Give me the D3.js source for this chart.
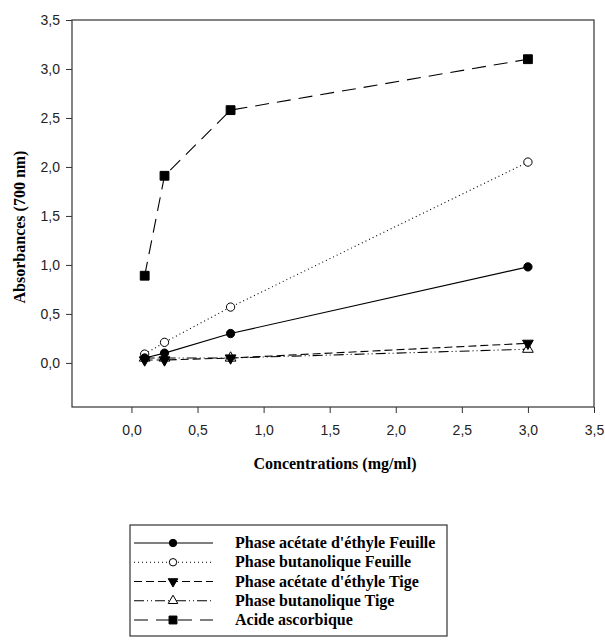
<!DOCTYPE html>
<html>
<head>
<meta charset="utf-8">
<script src="https://cdn.jsdelivr.net/npm/d3@7"></script>
<style>
  body { margin: 0; background: #fff; }
  .tick text { font-family: "Liberation Sans", Arial, sans-serif; font-size: 14px; fill: #222; }
  .title { font-family: "Liberation Serif", "Times New Roman", serif; font-weight: bold; font-size: 16px; fill: #000; }
</style>
</head>
<body>
<div id="chart"></div>
<script>
// data
const concentrations = [0.1, 0.25, 0.75, 3.0];
const acetateFeuille = [0.05, 0.10, 0.30, 0.98];
const butanolFeuille = [0.09, 0.21, 0.57, 2.05];
const acetateTige = [0.03, 0.03, 0.05, 0.20];
const butanolTige = [0.05, 0.05, 0.05, 0.14];
const acideAscorbique = [0.89, 1.91, 2.58, 3.10];
const seriesNames = [
  "Phase acétate d'éthyle Feuille",
  "Phase butanolique Feuille",
  "Phase acétate d'éthyle Tige",
  "Phase butanolique Tige",
  "Acide ascorbique"
];
const xTicks = [0, 0.5, 1, 1.5, 2, 2.5, 3, 3.5];
const yTicks = [0, 0.5, 1, 1.5, 2, 2.5, 3, 3.5];

const W = 605, H = 644;
const margin = {left: 72, right: 594, top: 20, bottom: 407};

const svg = d3.select('#chart').append('svg').attr('width', W).attr('height', H);

const x = d3.scaleLinear().domain([-0.45, 3.5]).range([margin.left, margin.right]);
const y = d3.scaleLinear().domain([-0.45, 3.5]).range([margin.bottom, margin.top]);

const fmt = d3.formatLocale({decimal: ',', thousands: '.', grouping: [3], currency: ['', '']}).format('.1f');

// series styles
const styles = [
  {vals: acetateFeuille, dash: null, sym: d3.symbolCircle, size: 54, fill: '#000', rot: 0},
  {vals: butanolFeuille, dash: '1,3', sym: d3.symbolCircle, size: 54, fill: '#fff', rot: 0},
  {vals: acetateTige, dash: '8,4', sym: d3.symbolTriangle, size: 50, fill: '#000', rot: 180},
  {vals: butanolTige, dash: '10,3,1,3,1,3', sym: d3.symbolTriangle, size: 50, fill: '#fff', rot: 0},
  {vals: acideAscorbique, dash: '14,8', sym: d3.symbolSquare, size: 78, fill: '#000', rot: 0}
];

// axes
svg.append('g')
  .attr('transform', `translate(0,${margin.bottom})`)
  .call(d3.axisBottom(x).tickValues(xTicks).tickFormat(fmt).tickSize(6).tickPadding(12))
  .call(g => g.select('.domain').remove());
svg.append('g')
  .attr('transform', `translate(${margin.left},0)`)
  .call(d3.axisLeft(y).tickValues(yTicks).tickFormat(fmt).tickSize(6).tickPadding(6))
  .call(g => g.select('.domain').remove());
svg.selectAll('.tick line').attr('stroke', '#333');

// frame
svg.append('rect')
  .attr('x', margin.left).attr('y', margin.top)
  .attr('width', margin.right - margin.left).attr('height', margin.bottom - margin.top)
  .attr('fill', 'none').attr('stroke', '#333').attr('stroke-width', 1.2);

const line = d3.line().x(d => x(d[0])).y(d => y(d[1]));

// draw ascorbic first, then the rest
[4, 3, 2, 1, 0].forEach(i => {
  const s = styles[i];
  const pts = concentrations.map((c, j) => [c, s.vals[j]]);
  svg.append('path')
    .datum(pts)
    .attr('d', line)
    .attr('fill', 'none')
    .attr('stroke', '#000')
    .attr('stroke-width', 1.1)
    .attr('stroke-dasharray', s.dash);
  svg.selectAll(null)
    .data(pts)
    .enter()
    .append('path')
    .attr('d', d3.symbol().type(s.sym).size(s.size))
    .attr('transform', d => `translate(${x(d[0])},${y(d[1])}) rotate(${s.rot})`)
    .attr('fill', s.fill)
    .attr('stroke', '#000')
    .attr('stroke-width', 1);
});

// axis titles
svg.append('text').attr('class', 'title')
  .attr('x', (margin.left + margin.right) / 2 + 2).attr('y', 469)
  .attr('text-anchor', 'middle')
  .text('Concentrations (mg/ml)');
svg.append('text').attr('class', 'title')
  .attr('transform', 'translate(25,227) rotate(-90)')
  .attr('text-anchor', 'middle')
  .text('Absorbances (700 nm)');

// legend
const lg = svg.append('g');
const lgTop = 525, rowH = 19.25;
lg.append('rect')
  .attr('x', 130).attr('y', lgTop)
  .attr('width', 317).attr('height', 111)
  .attr('fill', 'none').attr('stroke', '#333').attr('stroke-width', 1.2);

seriesNames.forEach((name, i) => {
  const s = styles[i];
  const cy = lgTop + 18 + i * rowH;
  lg.append('line')
    .attr('x1', 134).attr('x2', 213)
    .attr('y1', cy).attr('y2', cy)
    .attr('stroke', '#000').attr('stroke-width', 1.1)
    .attr('stroke-dasharray', s.dash);
  lg.append('path')
    .attr('d', d3.symbol().type(s.sym).size(s.size * 0.8))
    .attr('transform', `translate(173,${cy}) rotate(${s.rot})`)
    .attr('fill', s.fill).attr('stroke', '#000');
  lg.append('text').attr('class', 'title')
    .attr('x', 235).attr('y', cy + 5)
    .text(name);
});
</script>
</body>
</html>
